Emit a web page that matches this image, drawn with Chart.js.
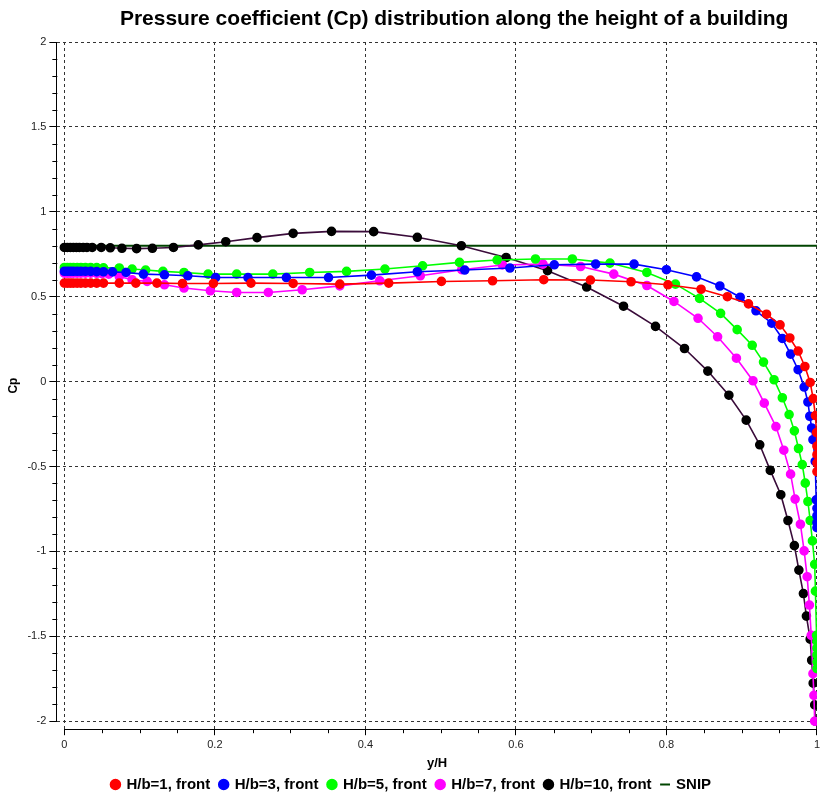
<!DOCTYPE html>
<html><head><meta charset="utf-8">
<script src="https://cdn.jsdelivr.net/npm/chart.js@4.4.1/dist/chart.umd.min.js"></script>
<style>html,body{margin:0;padding:0;background:#fff;}canvas{display:block;}</style>
</head><body>
<canvas id="c" width="823" height="792"></canvas>
<script>
const chartTitle = 'Pressure coefficient (Cp) distribution along the height of a building';
const xTickLabels = ['0','0.2','0.4','0.6','0.8','1'];
const yTickLabels = ['2','1.5','1','0.5','0','-0.5','-1','-1.5','-2'];
const seriesNames = ['H/b=1, front','H/b=3, front','H/b=5, front','H/b=7, front','H/b=10, front','SNIP'];

const h1X = [0,0.004,0.008,0.012,0.017,0.022,0.028,0.035,0.043,0.052,0.073,0.095,0.123,0.157,0.198,0.248,0.304,0.366,0.431,0.501,0.569,0.637,0.699,0.753,0.802,0.846,0.881,0.909,0.933,0.951,0.964,0.975,0.984,0.991,0.995,0.998,0.9995,1,1,1,1];
const h1Cp = [0.58,0.58,0.58,0.58,0.58,0.58,0.58,0.58,0.58,0.58,0.58,0.58,0.58,0.578,0.578,0.58,0.578,0.574,0.58,0.59,0.594,0.6,0.598,0.588,0.57,0.544,0.5,0.458,0.397,0.334,0.257,0.18,0.089,-0.005,-0.1,-0.2,-0.3,-0.38,-0.43,-0.48,-0.53];

const h3X = [0,0.004,0.008,0.012,0.017,0.022,0.028,0.035,0.043,0.052,0.064,0.082,0.105,0.133,0.164,0.201,0.244,0.295,0.351,0.408,0.469,0.532,0.592,0.651,0.706,0.757,0.800,0.840,0.871,0.898,0.919,0.940,0.954,0.965,0.975,0.983,0.988,0.9905,0.993,0.9947,0.9977,0.999,1,1,1,1];
const h3Cp = [0.65,0.65,0.65,0.65,0.65,0.65,0.65,0.649,0.648,0.647,0.646,0.643,0.633,0.629,0.623,0.613,0.613,0.613,0.613,0.627,0.647,0.657,0.669,0.688,0.692,0.692,0.659,0.617,0.563,0.497,0.417,0.344,0.254,0.162,0.07,-0.032,-0.12,-0.204,-0.273,-0.342,-0.47,-0.696,-0.746,-0.79,-0.83,-0.86];

const h5X = [0,0.004,0.008,0.012,0.017,0.022,0.028,0.035,0.043,0.052,0.073,0.090,0.108,0.131,0.159,0.191,0.229,0.277,0.326,0.375,0.426,0.476,0.525,0.575,0.626,0.675,0.725,0.774,0.812,0.844,0.872,0.894,0.914,0.929,0.943,0.954,0.963,0.970,0.9755,0.9805,0.9845,0.988,0.991,0.994,0.997,0.998,0.9995,1,1,1,1,1];
const h5Cp = [0.672,0.672,0.672,0.672,0.672,0.672,0.672,0.672,0.671,0.67,0.669,0.663,0.657,0.649,0.643,0.633,0.633,0.633,0.643,0.649,0.663,0.682,0.702,0.716,0.722,0.722,0.698,0.643,0.574,0.49,0.402,0.306,0.214,0.115,0.011,-0.095,-0.194,-0.29,-0.394,-0.489,-0.598,-0.706,-0.818,-0.938,-1.076,-1.234,-1.494,-1.53,-1.57,-1.61,-1.65,-1.69];

const h7X = [0,0.004,0.008,0.012,0.017,0.022,0.028,0.035,0.043,0.05,0.059,0.073,0.090,0.110,0.133,0.159,0.194,0.229,0.271,0.316,0.366,0.419,0.473,0.528,0.582,0.636,0.686,0.730,0.774,0.810,0.842,0.868,0.893,0.915,0.930,0.9455,0.956,0.965,0.971,0.978,0.983,0.987,0.990,0.9924,0.9947,0.996,0.997];
const h7Cp = [0.639,0.639,0.639,0.639,0.639,0.639,0.639,0.639,0.638,0.636,0.633,0.619,0.6,0.59,0.57,0.551,0.535,0.525,0.525,0.541,0.564,0.594,0.623,0.659,0.687,0.692,0.678,0.633,0.566,0.472,0.373,0.264,0.138,0.005,-0.127,-0.265,-0.404,-0.545,-0.692,-0.84,-0.997,-1.149,-1.316,-1.494,-1.72,-1.848,-2.0];

const h10X = [0,0.004,0.008,0.012,0.016,0.02,0.025,0.03,0.037,0.049,0.061,0.0765,0.096,0.117,0.145,0.178,0.2145,0.256,0.304,0.355,0.411,0.469,0.5275,0.587,0.642,0.694,0.743,0.7855,0.824,0.855,0.883,0.906,0.924,0.938,0.952,0.9615,0.97,0.976,0.982,0.986,0.991,0.993,0.995,0.997,0.998];
const h10Cp = [0.79,0.79,0.79,0.79,0.79,0.79,0.79,0.79,0.79,0.79,0.788,0.785,0.783,0.785,0.79,0.805,0.824,0.848,0.873,0.885,0.883,0.85,0.80,0.731,0.653,0.557,0.444,0.325,0.195,0.062,-0.08,-0.227,-0.372,-0.523,-0.666,-0.818,-0.966,-1.11,-1.248,-1.381,-1.517,-1.641,-1.776,-1.904,-2.0];

const snipX = [0,1];
const snipCp = [0.8,0.8];

const FONT = '"Liberation Sans", Arial, sans-serif';
function pts(xs, ys){ return xs.map((x,i)=>({x:x, y:ys[i]})); }
function labelFor(list, v){
  for (const s of list){ if (Math.abs(parseFloat(s) - v) < 1e-6) return s; }
  return null;
}
function mkSeries(name, xs, ys, color, lineColor){
  return {label:name, data:pts(xs,ys), borderColor:lineColor||color, backgroundColor:color,
    pointBackgroundColor:color, pointBorderColor:color, pointRadius:4, pointHoverRadius:4,
    borderWidth:1.6, showLine:true, tension:0, pointStyle:'circle'};
}

const datasets = [
  mkSeries(seriesNames[0], h1X, h1Cp, '#ff0000'),
  mkSeries(seriesNames[1], h3X, h3Cp, '#0000ff'),
  mkSeries(seriesNames[2], h5X, h5Cp, '#00ff00'),
  mkSeries(seriesNames[3], h7X, h7Cp, '#ff00ff'),
  mkSeries(seriesNames[4], h10X, h10Cp, '#000000', '#3a0c3a'),
  {label:seriesNames[5], data:pts(snipX,snipCp), borderColor:'#004400', backgroundColor:'#004400',
   pointRadius:0, pointHoverRadius:0, borderWidth:2, showLine:true, tension:0, pointStyle:'line'}
];

const decor = {
  id:'decor',
  afterDraw(chart){
    const {ctx, chartArea:a, scales:{x, y}} = chart;
    ctx.save();
    ctx.strokeStyle = '#000'; ctx.lineWidth = 1;
    ctx.beginPath();
    ctx.moveTo(Math.round(a.left)-0.5, y.getPixelForValue(2));
    ctx.lineTo(Math.round(a.left)-0.5, y.getPixelForValue(-2));
    ctx.moveTo(x.getPixelForValue(0), Math.round(a.bottom)+0.5);
    ctx.lineTo(x.getPixelForValue(1), Math.round(a.bottom)+0.5);
    ctx.stroke();
    ctx.beginPath();
    y.ticks.forEach(t=>{ if(labelFor(yTickLabels,t.value)===null){ const p=Math.round(y.getPixelForValue(t.value))+0.5; ctx.moveTo(a.left-5,p); ctx.lineTo(a.left,p);} });
    x.ticks.forEach(t=>{ if(labelFor(xTickLabels,t.value)===null){ const p=Math.round(x.getPixelForValue(t.value))+0.5; ctx.moveTo(p,a.bottom); ctx.lineTo(p,a.bottom+4);} });
    ctx.stroke();
    ctx.fillStyle = '#000';
    ctx.font = 'bold 21px ' + FONT;
    ctx.textAlign = 'center'; ctx.textBaseline = 'middle';
    ctx.fillText(chartTitle, (a.left + a.right)/2 + 17, 19);
    ctx.restore();
  }
};

new Chart(document.getElementById('c'), {
  type:'scatter',
  data:{datasets},
  plugins:[decor],
  options:{
    responsive:false, animation:false, devicePixelRatio:1,
    layout:{padding:{top:42,left:4,right:4,bottom:-10}},
    plugins:{
      title:{display:false},
      tooltip:{enabled:false},
      legend:{position:'bottom', labels:{usePointStyle:true, boxWidth:7, boxHeight:7, padding:10, color:'#000', font:{family:FONT, size:15, weight:'bold'}}}
    },
    scales:{
      x:{type:'linear', min:-0.0093, max:1,
        ticks:{stepSize:0.05, includeBounds:false, maxRotation:0, autoSkip:false, padding:3, color:'#222', font:{family:FONT,size:11},
          callback:(v)=>{ const s=labelFor(xTickLabels,v); return s===null?'':s; }},
        grid:{color:(c)=> (c.tick && labelFor(xTickLabels,c.tick.value)!==null) ? '#333' : 'rgba(0,0,0,0)',
          tickColor:(c)=> (c.tick && labelFor(xTickLabels,c.tick.value)!==null) ? '#000' : 'rgba(0,0,0,0)',
          tickLength:6, lineWidth:1},
        border:{display:false, dash:[3,3]},
        title:{display:true, text:'y/H', color:'#000', font:{family:FONT,size:13,weight:'bold'}, padding:{top:1,bottom:-4}}
      },
      y:{type:'linear', min:-2.047, max:2,
        ticks:{stepSize:0.1, includeBounds:false, autoSkip:false, padding:3, color:'#222', font:{family:FONT,size:11},
          callback:(v)=>{ const s=labelFor(yTickLabels,v); return s===null?'':s; }},
        grid:{color:(c)=> (c.tick && labelFor(yTickLabels,c.tick.value)!==null) ? '#333' : 'rgba(0,0,0,0)',
          tickColor:(c)=> (c.tick && labelFor(yTickLabels,c.tick.value)!==null) ? '#000' : 'rgba(0,0,0,0)',
          tickLength:8, lineWidth:1},
        border:{display:false, dash:[3,3]},
        title:{display:true, text:'Cp', color:'#000', font:{family:FONT,size:12,weight:'bold'}, padding:{top:2,bottom:4}}
      }
    }
  }
});
</script>
</body></html>
